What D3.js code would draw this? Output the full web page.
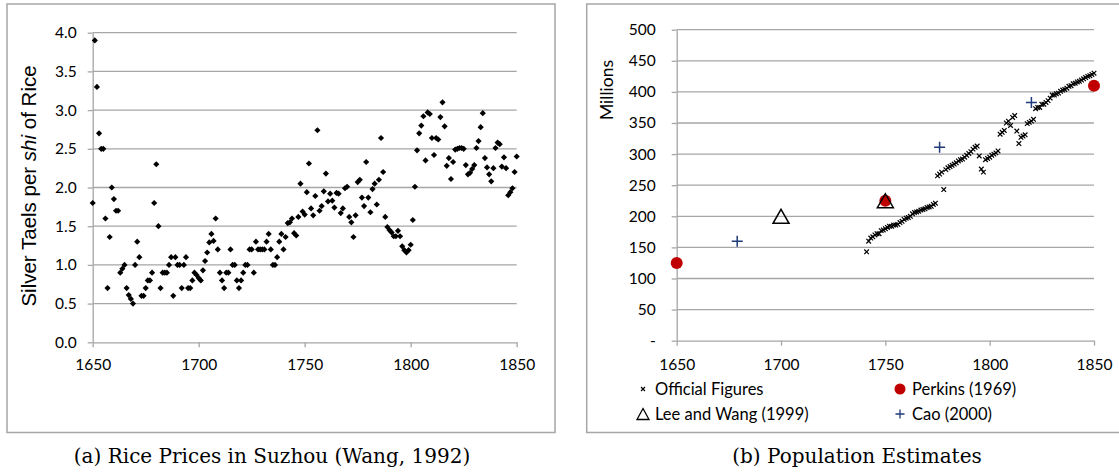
<!DOCTYPE html>
<html lang="en">
<head>
<meta charset="UTF-8"/>
<title>Rice prices and population</title>
<script src="https://d3js.org/d3.v7.min.js" charset="utf-8"></script>
<style>
    body { margin: 0; background: #fff; }
    text { font-family: Lato, "Open Sans", sans-serif; fill: #000; }
    .frame { fill: none; stroke: #a6a6a6; stroke-width: 1.5px; }
    .grid line { stroke: #a6a6a6; stroke-width: 1.3px; }
    .axis path, .axis line { fill: none; stroke: #a6a6a6; stroke-width: 1.3px; }
    .axis text { font-size: 15.5px; fill: #000; }
    .caption { font-family: "DejaVu Serif", serif; font-size: 20px; }
</style>
</head>
<body>
<svg id="chart" width="1119" height="476"></svg>
<script>
// ---- data: (a) rice prices in Suzhou
var riceYears = [
    1650,1651,1652,1653,1654,1655,1656,1657,1658,1659,1660,1661,1662,1663,1664,1665,1666,1667,1668,1669,
    1670,1671,1672,1673,1674,1675,1676,1677,1678,1679,1680,1681,1682,1683,1684,1685,1686,1687,1688,1689,
    1690,1691,1692,1693,1694,1695,1696,1697,1698,1699,1700,1701,1702,1703,1704,1705,1706,1707,1708,1709,
    1710,1711,1712,1713,1714,1715,1716,1717,1718,1719,1720,1721,1722,1723,1724,1725,1726,1727,1728,1729,
    1730,1731,1732,1733,1734,1735,1736,1737,1738,1739,1740,1741,1742,1743,1744,1745,1746,1747,1748,1749,
    1750,1751,1752,1753,1754,1755,1756,1757,1758,1759,1760,1761,1762,1763,1764,1765,1766,1767,1768,1769,
    1770,1771,1772,1773,1774,1775,1776,1777,1778,1779,1780,1781,1782,1783,1784,1785,1786,1787,1788,1789,
    1790,1791,1792,1793,1794,1795,1796,1797,1798,1799,1800,1801,1802,1803,1804,1805,1806,1807,1808,1809,
    1810,1811,1812,1813,1814,1815,1816,1817,1818,1819,1820,1821,1822,1823,1824,1825,1826,1827,1828,1829,
    1830,1831,1832,1833,1834,1835,1836,1837,1838,1839,1840,1841,1842,1843,1844,1845,1846,1847,1848,1849,
    1850];
var ricePrices = [
    1.80,3.90,3.30,2.70,2.50,2.50,1.60,0.70,1.36,2.00,1.85,1.70,1.70,0.90,0.95,1.00,0.70,0.61,0.56,0.50,
    1.00,1.30,1.10,0.60,0.60,0.70,0.80,0.80,0.90,1.80,2.30,1.50,0.70,0.90,0.90,0.90,1.00,1.10,0.60,1.10,
    1.00,1.00,0.70,1.00,1.10,0.70,0.70,0.80,0.90,0.87,0.83,0.80,0.93,1.05,1.16,1.29,1.40,1.31,1.60,1.20,
    0.90,0.80,0.70,0.90,0.90,1.20,1.00,1.00,0.80,0.70,0.80,0.90,1.00,1.00,1.20,1.20,0.90,1.30,1.20,1.20,
    1.20,1.20,1.30,1.40,1.20,1.00,1.00,1.10,1.30,1.40,1.20,1.36,1.54,1.55,1.60,1.41,1.38,1.62,2.05,1.69,
    1.65,1.94,2.31,1.73,1.64,1.89,2.74,1.70,1.76,1.95,2.18,1.82,1.92,1.83,1.74,1.93,1.92,1.67,1.73,1.99,
    2.01,1.62,1.55,1.36,1.64,2.07,2.10,1.87,1.76,2.33,1.87,1.68,1.98,2.05,1.78,2.10,2.64,2.20,1.62,1.49,
    1.45,1.42,1.37,1.37,1.44,1.37,1.24,1.19,1.16,1.19,1.26,1.58,2.01,2.48,2.70,2.80,2.92,2.35,2.97,2.95,
    2.64,2.42,2.64,2.62,2.91,3.10,2.79,2.28,2.38,2.11,2.33,2.49,2.50,2.51,2.51,2.50,2.29,2.17,2.19,2.24,
    2.29,2.51,2.60,2.78,2.96,2.38,2.26,2.17,2.08,2.25,2.51,2.58,2.56,2.27,2.39,2.25,1.90,1.94,1.99,2.20,
    2.40];
var riceTicks = [0, 0.5, 1.0, 1.5, 2.0, 2.5, 3.0, 3.5, 4.0];
var yearTicks = [1650, 1700, 1750, 1800, 1850];

// ---- data: (b) population estimates (millions)
var officialYears = d3.range(1741, 1851);
var officialPop = [
    143,160,165,167,170,172,172,177,178,180,182,184,184,186,186,187,190,192,195,197,
    198,200,204,206,207,208,210,211,212,214,215,216,219,221,265,268,271,243,275,278,
    280,282,284,286,289,291,292,295,298,301,304,308,311,313,297,276,271,291,293,295,
    298,300,302,305,332,335,338,350,353,346,359,362,337,317,327,329,331,349,351,353,
    356,373,375,375,380,380,383,386,390,395,395,397,398,401,403,404,406,409,410,413,
    414,416,417,419,421,423,425,426,428,430];
var perkinsYears = [1650, 1750, 1850];
var perkinsPop = [125, 225, 410];
var leeWangYears = [1700, 1750];
var leeWangPop = [200, 225];
var caoYears = [1679, 1776, 1820];
var caoPop = [160, 311, 383];
var popTicks = [0, 50, 100, 150, 200, 250, 300, 350, 400, 450, 500];
var legendNames = ["Official Figures", "Perkins (1969)", "Lee and Wang (1999)", "Cao (2000)"];

var red = "#c00000", blue = "#1f3b7a";

var svg = d3.select("#chart");

// frames around the two panels
svg.append("rect").attr("class", "frame").attr("x", 7).attr("y", 4).attr("width", 548).attr("height", 428.5);
svg.append("rect").attr("class", "frame").attr("x", 586.7).attr("y", 4).attr("width", 540).attr("height", 428.5);

// ================= panel (a) =================
var xL = d3.scaleLinear().domain([1650, 1850]).range([92.7, 516.7]);
var yL = d3.scaleLinear().domain([0, 4]).range([342.3, 32.7]);

svg.append("g").attr("class", "grid")
    .selectAll("line")
    .data(riceTicks.filter(function (d) { return d > 0; }))
    .enter().append("line")
    .attr("x1", xL(1650)).attr("x2", xL(1850))
    .attr("y1", function (d) { return yL(d); })
    .attr("y2", function (d) { return yL(d); });

svg.append("g").attr("class", "axis")
    .attr("transform", "translate(0," + yL(0) + ")")
    .call(d3.axisBottom(xL).tickValues(yearTicks).tickSize(5).tickSizeOuter(0).tickPadding(12).tickFormat(d3.format("d")));

svg.append("g").attr("class", "axis")
    .attr("transform", "translate(" + xL(1650) + ",0)")
    .call(d3.axisLeft(yL).tickValues(riceTicks).tickSize(5).tickSizeOuter(0).tickPadding(11).tickFormat(d3.format(".1f")));

var yLabel = svg.append("text")
    .attr("transform", "translate(36,186) rotate(-90)")
    .attr("text-anchor", "middle")
    .style("font-family", "'Liberation Sans', Arial, sans-serif")
    .style("font-size", "20.5px");
yLabel.append("tspan").text("Silver Taels per ");
yLabel.append("tspan").style("font-style", "italic").text("shi");
yLabel.append("tspan").text(" of Rice");

var diamond = d3.symbol().type(d3.symbolSquare).size(19);
svg.append("g")
    .selectAll("path")
    .data(riceYears)
    .enter().append("path")
    .attr("d", diamond)
    .attr("transform", function (d, i) { return "translate(" + xL(d) + "," + yL(ricePrices[i]) + ") rotate(45)"; })
    .style("fill", "#000");

svg.append("text").attr("class", "caption")
    .attr("x", 272).attr("y", 463).attr("text-anchor", "middle")
    .text("(a) Rice Prices in Suzhou (Wang, 1992)");

// ================= panel (b) =================
var xR = d3.scaleLinear().domain([1650, 1850]).range([676.7, 1094]);
var yR = d3.scaleLinear().domain([0, 500]).range([340.7, 29.7]);

svg.append("g").attr("class", "grid")
    .selectAll("line")
    .data(popTicks.filter(function (d) { return d > 0; }))
    .enter().append("line")
    .attr("x1", xR(1650)).attr("x2", xR(1850))
    .attr("y1", function (d) { return yR(d); })
    .attr("y2", function (d) { return yR(d); });

svg.append("g").attr("class", "axis")
    .attr("transform", "translate(0," + yR(0) + ")")
    .call(d3.axisBottom(xR).tickValues(yearTicks).tickSize(5).tickSizeOuter(0).tickPadding(13).tickFormat(d3.format("d")));

svg.append("g").attr("class", "axis")
    .attr("transform", "translate(" + xR(1650) + ",0)")
    .call(d3.axisLeft(yR).tickValues(popTicks).tickSize(5).tickSizeOuter(0).tickPadding(16)
        .tickFormat(function (d) { return d === 0 ? "-" : d; }));

svg.append("text")
    .attr("transform", "translate(613,90) rotate(-90)")
    .attr("text-anchor", "middle")
    .style("font-size", "17.5px")
    .text("Millions");

// marker shapes
function crossPath(h) { return "M" + (-h) + "," + (-h) + "L" + h + "," + h + "M" + (-h) + "," + h + "L" + h + "," + (-h); }
function plusPath(h) { return "M" + (-h) + ",0L" + h + ",0M0," + (-h) + "L0," + h; }
function triPath(w, h) { return "M0," + (-h / 2) + "L" + (w / 2) + "," + (h / 2) + "L" + (-w / 2) + "," + (h / 2) + "Z"; }

var pts = svg.append("g");

pts.selectAll(".perkins")
    .data(perkinsYears)
    .enter().append("circle")
    .attr("cx", function (d) { return xR(d); })
    .attr("cy", function (d, i) { return yR(perkinsPop[i]); })
    .attr("r", 6)
    .style("fill", red);

pts.selectAll(".leewang")
    .data(leeWangYears)
    .enter().append("path")
    .attr("d", triPath(16, 14))
    .attr("transform", function (d, i) { return "translate(" + xR(d) + "," + yR(leeWangPop[i]) + ")"; })
    .style("fill", "none").style("stroke", "#000").style("stroke-width", 1.5);

pts.selectAll(".official")
    .data(officialYears)
    .enter().append("path")
    .attr("d", crossPath(2.3))
    .attr("transform", function (d, i) { return "translate(" + xR(d) + "," + yR(officialPop[i]) + ")"; })
    .style("stroke", "#000").style("stroke-width", 1.2);

pts.selectAll(".cao")
    .data(caoYears)
    .enter().append("path")
    .attr("d", plusPath(5.5))
    .attr("transform", function (d, i) { return "translate(" + xR(d) + "," + yR(caoPop[i]) + ")"; })
    .style("stroke", blue).style("stroke-width", 1.5);

// legend
var legendPos = [[643, 389], [900, 389], [643, 414], [900, 414]];
var legend = svg.append("g");
legendNames.forEach(function (name, i) {
    var g = legend.append("g").attr("transform", "translate(" + legendPos[i][0] + "," + legendPos[i][1] + ")");
    if (i === 0) g.append("path").attr("d", crossPath(2)).style("stroke", "#000").style("stroke-width", 1.2);
    if (i === 1) g.append("circle").attr("r", 5.5).style("fill", red);
    if (i === 2) g.append("path").attr("d", triPath(12, 11)).style("fill", "none").style("stroke", "#000").style("stroke-width", 1.3);
    if (i === 3) g.append("path").attr("d", plusPath(4.5)).style("stroke", blue).style("stroke-width", 1.3);
    g.append("text").attr("x", 12).attr("dy", "0.35em").style("font-size", "16.5px").text(name);
});

svg.append("text").attr("class", "caption")
    .attr("x", 857).attr("y", 463).attr("text-anchor", "middle")
    .text("(b) Population Estimates");
</script>
</body>
</html>
